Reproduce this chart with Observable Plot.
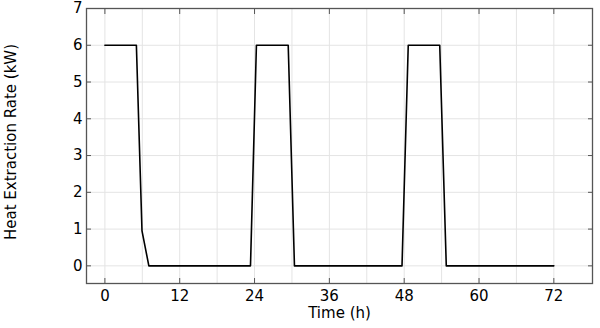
<!DOCTYPE html>
<html>
<head>
<meta charset="utf-8">
<script src="https://cdn.jsdelivr.net/npm/d3@7"></script>
<script src="https://cdn.jsdelivr.net/npm/@observablehq/plot@0.6"></script>
<style>
  html, body { margin: 0; padding: 0; background: #fff; }
  #chart svg { display: block; }
  #chart svg g[aria-label$="tick label"],
  #chart svg g[aria-label$="tick label"] text { font-size: 15px; }
</style>
</head>
<body>
<div id="chart"></div>
<script>
// Data
const timeH = [0, 5.05, 5.95, 7.05, 23.35, 24.3, 29.4, 30.4, 47.65, 48.65, 53.7, 54.75, 72];
const powerKW = [6, 6, 0.95, 0, 0, 6, 6, 0, 0, 6, 6, 0, 0];
const xTicks = [0, 12, 24, 36, 48, 60, 72];
const xGrid = [0, 6, 12, 18, 24, 30, 36, 42, 48, 54, 60, 66, 72];
const yTicks = [0, 1, 2, 3, 4, 5, 6, 7];
const xLabel = "Time (h)";
const yLabel = "Heat Extraction Rate (kW)";

const data = timeH.map((t, i) => ({t, p: powerKW[i]}));
const font = "'DejaVu Sans', sans-serif";
const axisColor = "#555";

const chart = Plot.plot({
  width: 600,
  height: 328,
  marginLeft: 86,
  marginRight: 8,
  marginTop: 8,
  marginBottom: 45,
  style: {fontFamily: font, fontSize: "15px", color: "#000", background: "#fff"},
  x: {domain: [-2.95, 78.2]},
  y: {domain: [-0.48, 7]},
  marks: [
    Plot.gridX(xGrid, {stroke: "#e4e4e4", strokeOpacity: 1, strokeWidth: 1}),
    Plot.gridY(yTicks, {stroke: "#e4e4e4", strokeOpacity: 1, strokeWidth: 1}),
    Plot.axisX(xTicks, {anchor: "bottom", tickSize: -5, tickPadding: 12, stroke: axisColor, label: null, fontSize: 15, tickFormat: d => String(d)}),
    Plot.axisX(xTicks, {anchor: "top", tickSize: -5, stroke: axisColor, label: null, tickFormat: () => ""}),
    Plot.axisY(yTicks, {anchor: "left", tickSize: -5, tickPadding: 9, stroke: axisColor, label: null, fontSize: 15, tickFormat: d => String(d)}),
    Plot.axisY(yTicks, {anchor: "right", tickSize: -5, stroke: axisColor, label: null, tickFormat: () => ""}),
    Plot.frame({stroke: axisColor, strokeWidth: 1.3}),
    Plot.line(data, {x: "t", y: "p", stroke: "#000", strokeWidth: 1.6}),
    Plot.text([xLabel], {frameAnchor: "bottom", textAnchor: "middle", lineAnchor: "middle", dy: 29.5, fontSize: 15, fill: "#000"}),
    Plot.text([yLabel], {frameAnchor: "left", textAnchor: "middle", lineAnchor: "middle", dx: -75, dy: -4, rotate: -90, fontSize: 15, fill: "#000"})
  ]
});
document.getElementById("chart").appendChild(chart);
</script>
</body>
</html>
